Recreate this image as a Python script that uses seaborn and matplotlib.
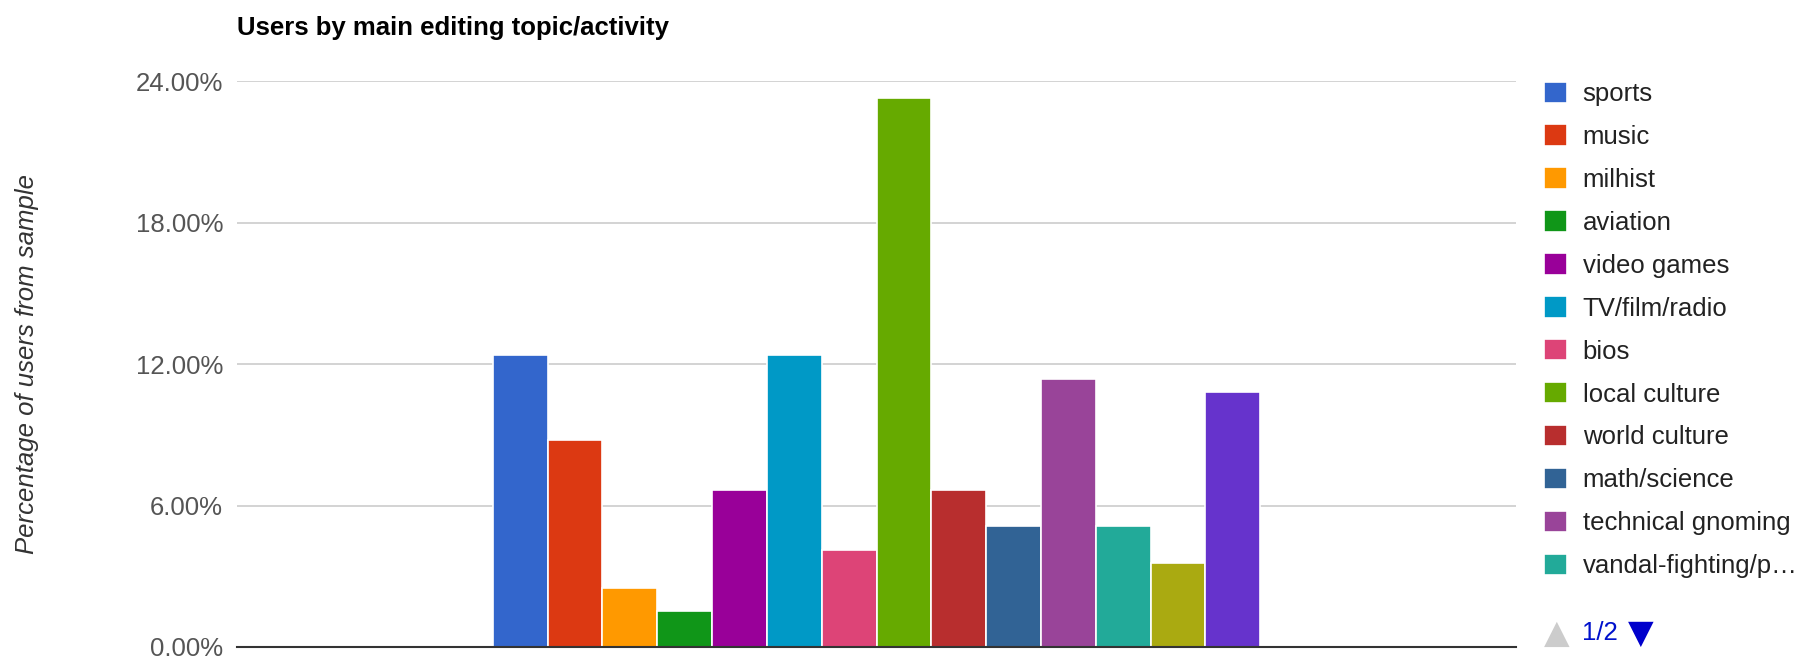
import numpy as np
import pandas as pd
import seaborn as sns
import matplotlib.pyplot as plt
from matplotlib.ticker import FixedLocator

topics = ['sports', 'music', 'milhist', 'aviation', 'video games', 'TV/film/radio', 'bios',
          'local culture', 'world culture', 'math/science', 'technical gnoming',
          'vandal-fighting/patrolling', 'policy/admin', 'other']
share = [12.41, 8.78, 2.51, 1.53, 6.67, 12.41, 4.10, 23.29, 6.67, 5.14, 11.36, 5.14, 3.56, 10.82]
colors = ['#3366cc', '#dc3912', '#ff9900', '#109618', '#990099', '#0099c6', '#dd4477',
          '#66aa00', '#b82e2e', '#316395', '#994499', '#22aa99', '#aaaa11', '#6633cc']
yticks = [0, 6, 12, 18, 24]
legend_page = 12  # legend shows first 12 entries (page 1/2)

df = pd.DataFrame({'group': ['all'] * len(topics), 'topic': topics, 'share': share})

sns.set_style('white')
plt.rcParams['font.family'] = ['Liberation Sans', 'DejaVu Sans']

fig = plt.figure(figsize=(18.11, 6.6), dpi=100)
ax = fig.add_axes([0.1309, 0.0197, 0.7062, 0.857])

sns.barplot(data=df, x='group', y='share', hue='topic', hue_order=topics,
            palette=colors, saturation=1, width=0.6, edgecolor='white', linewidth=1.2,
            legend=False, ax=ax)

ax.set_ylim(0, 24)
ax.set_xlim(-0.5, 0.5)
ax.yaxis.set_major_locator(FixedLocator(yticks))
ax.set_yticklabels([f'{t:.2f}%' for t in yticks], color='#555555', fontsize=18.5)
ax.tick_params(axis='y', length=0, pad=10)
ax.set_xticks([])
ax.set_xlabel('')
ax.grid(axis='y', color='#cccccc', linewidth=1.2)
ax.set_axisbelow(True)
for s in ['top', 'right', 'left']:
    ax.spines[s].set_visible(False)
ax.spines['bottom'].set_color('#333333')
ax.spines['bottom'].set_linewidth(1.5)

ax.set_ylabel('Percentage of users from sample', fontsize=18.5, style='italic', color='#333333')
ax.yaxis.set_label_coords(-0.155, 0.5)

fig.text(0.1309, 0.958, 'Users by main editing topic/activity', fontsize=18.5,
         fontweight='bold', va='center', ha='left', color='#000000')

# legend, first page only
handles = [c.patches[0] for c in ax.containers[:legend_page]]
labels = topics[:legend_page]
labels[-1] = 'vandal-fighting/p\u2026'
leg = fig.legend(handles, labels, loc='upper left', bbox_to_anchor=(0.847, 0.892),
                 frameon=False, fontsize=18.5, handlelength=0.9, handleheight=0.9,
                 handletextpad=0.6, labelspacing=0.716, borderaxespad=0)
for t in leg.get_texts():
    t.set_color('#222222')

# pager
fig.text(0.8595, 0.041, '\u25b2', fontsize=24, color='#cccccc', va='center', ha='center',
         family='DejaVu Sans')
fig.text(0.8835, 0.041, '1/2', fontsize=18.5, color='#0011cc', va='center', ha='center')
fig.text(0.906, 0.041, '\u25bc', fontsize=24, color='#0000cc', va='center', ha='center',
         family='DejaVu Sans')

fig.savefig('out.png', dpi=100)
